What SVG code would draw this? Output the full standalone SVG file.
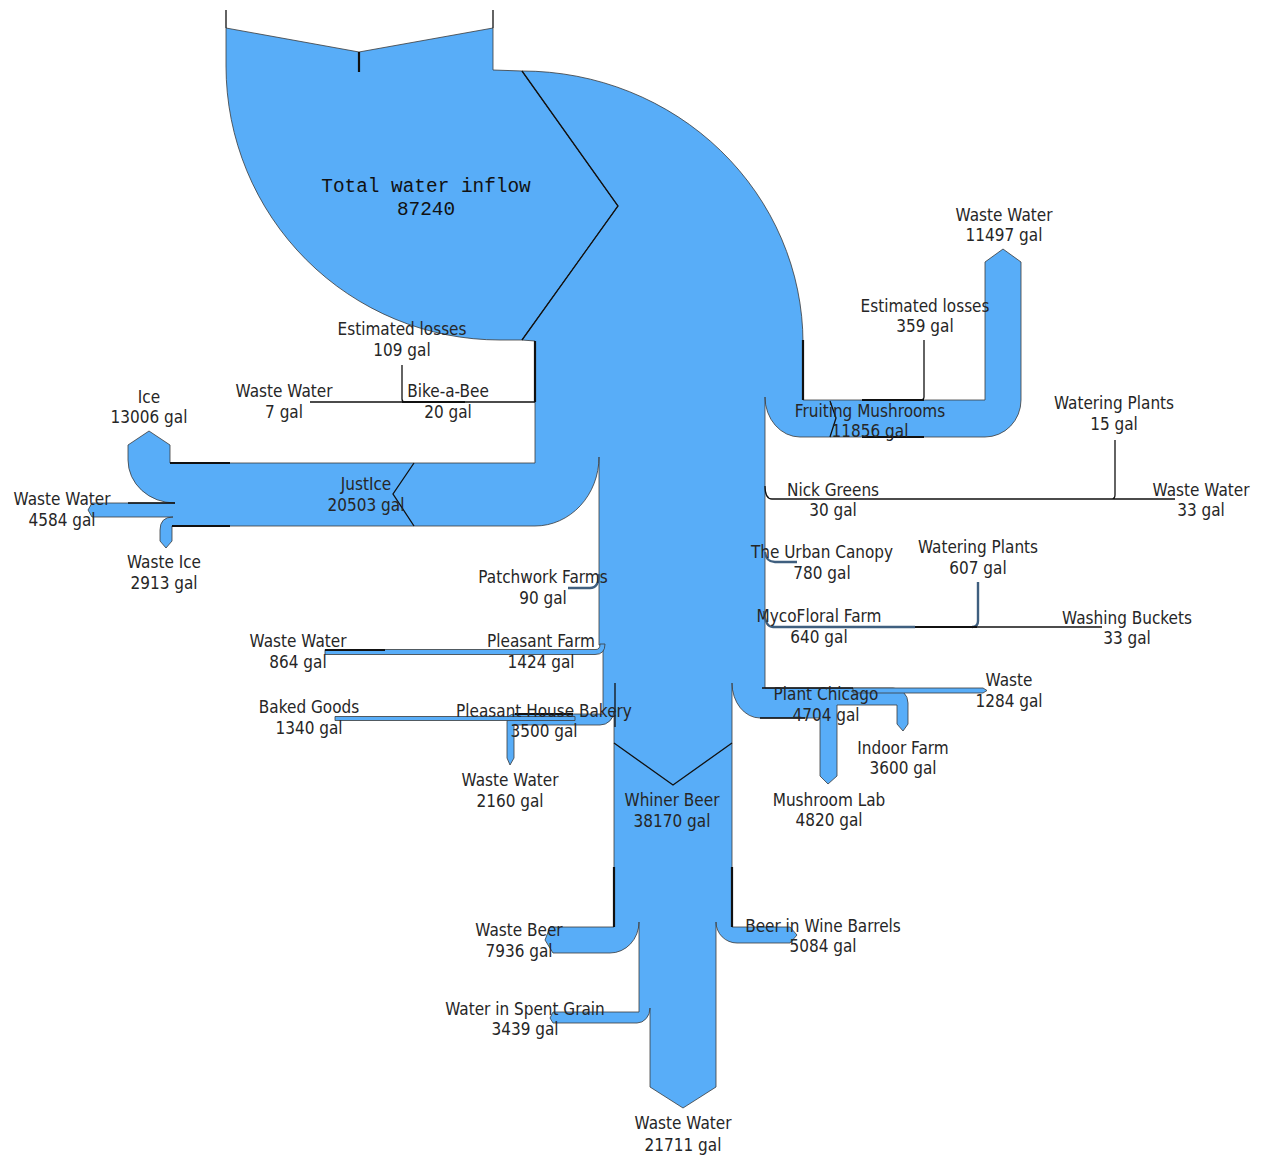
<svg xmlns="http://www.w3.org/2000/svg" width="1262" height="1156" viewBox="0 0 1262 1156">
<style>
.f{fill:#58adf8;stroke:#3a3a3a;stroke-width:0.8;stroke-linejoin:round}
.k{fill:none;stroke:#111;stroke-width:1.3}
.kb{fill:none;stroke:#111;stroke-width:2.2}
.s{fill:none;stroke:#3f5f7f;stroke-width:2.4}
.t{font-family:"DejaVu Sans","Liberation Sans",sans-serif;font-size:17px;fill:#262626;text-anchor:middle}
.m{font-family:"Liberation Mono","DejaVu Sans Mono",monospace;font-size:19.4px;fill:#111;text-anchor:middle}
</style>
<rect width="1262" height="1156" fill="#fff"/>
<g id="flows">
<path id="inflow" class="f" d="M226,28 L359,52 L493,28 L493,70 L522,71 L618,206 L522,340 L500,340 A274,274 0 0 1 226,66 Z"/>
<path id="trunk" class="f" d="M522,71 A281,272 0 0 1 803,343 L803,400 L985,400 L985,262 L1003,249 L1021,262 L1021,400 A36,37 0 0 1 985,437 L800,437 A35,40 0 0 1 765,397 L765,688 L893,688 A15,15 0 0 1 908,703 L908,724 L903,731 L897,724 L897,705 L837,705 L837,776 L828,784 L820,776 L820,718 L760,718 A28,35 0 0 1 732,683 L732,927 L790,927 L797,935 L790,943 L737,943 A21,21 0 0 1 716,922 L716,1087 L683,1108 L650,1087 L650,1008 A13,15 0 0 1 637,1023 L553,1023 L550,1018 L553,1012 L639,1012 L639,922 A29,31 0 0 1 610,953 L553,953 L545,940 L550,927 L614,927 L614,711 A14,14 0 0 1 600,725 L514,725 L514,758 L510,765 L507,758 L507,722 Q507,714 515,714 L603,714 L603,645 L599,645 L599,457 A64,69 0 0 1 535,526 L172,526 L172,541 L166,548 L160,541 L160,530 Q160,517 173,517 L92,517 L88,510 L92,503 L175,503 A47,43 0 0 1 128,460 L128,445 L149,431 L170,445 L170,463 L535,463 L535,341 L522,340 L618,206 Z"/>
<path id="pleasant-farm-flow" class="f" d="M325,649.5 L596,649.5 Q600,649.5 600,644 L605,644 Q605,654.5 595,654.5 L325,654.5 Z"/>
<path id="baked-goods-flow" class="f" d="M335,716.5 L575,716.5 L575,720.5 L335,720.5 Z"/>
<path id="waste-1284-flow" class="f" d="M853,688 L983,688 L987,690.5 L983,693 L853,693 Z"/>
</g>
<g id="connectors">
<path class="k" d="M226,10 V28 M493,10 V28"/>
<path class="kb" d="M359,52 V72"/>
<path class="k" d="M522,71 L618,206 L522,340"/>
<path class="k" d="M402,365 V399 Q402,402 405,402 M310,402 H535"/>
<path class="kb" d="M402,402 H465 M535,341 V402 M803,340 V400 M862,400 H924 M862,437 H924"/>
<path class="k" d="M924,340 V397 Q924,400 920,400"/>
<path class="k" stroke-width="1" d="M830,401 L836,418 L830,437"/>
<path class="k" d="M765,486 Q765,499 772,499 H1175 M1115,440 V495 Q1115,499 1111,499"/>
<path class="s" d="M765,552 Q766,562 775,562 H797"/>
<path class="s" d="M764,611 Q765,627 773,627 H915 M978,582 V621 Q978,627 972,627"/>
<path class="kb" stroke-width="2.8" d="M915,627 H977"/>
<path class="k" d="M977,627 H1102"/>
<path class="k" stroke-width="1.6" d="M762,688 H853 M760,718 H805"/>
<path class="s" d="M599,574 Q599,588 590,588 H568"/>
<path class="kb" stroke-width="2.6" d="M325,650 H385"/>
<path class="kb" d="M515,714 H573"/>
<path class="k" stroke-width="1.6" d="M615,683 V727"/>
<path class="k" stroke-width="1" d="M614,743 L673,785 L732,743"/>
<path class="kb" stroke-width="2" d="M614,867 V927 M732,867 V927"/>
<path class="k" stroke-width="1" d="M414,463 L393,494 L414,526"/>
<path class="kb" d="M170,463 H230 M172,526 H230"/>
<path class="k" stroke-width="1.6" d="M128,503 H175"/>
</g>
<g id="node-total"><text class="m" x="426" y="192">Total water inflow</text><text class="m" x="426" y="215">87240</text></g>
<g id="node-est109" transform="translate(402,335) scale(0.9,1)"><text class="t">Estimated losses</text><text class="t" y="21">109 gal</text></g>
<g id="node-ww7" transform="translate(284,397) scale(0.9,1)"><text class="t">Waste Water</text><text class="t" y="21">7 gal</text></g>
<g id="node-bike" transform="translate(448,397) scale(0.9,1)"><text class="t">Bike-a-Bee</text><text class="t" y="21">20 gal</text></g>
<g id="node-ice" transform="translate(149,403) scale(0.9,1)"><text class="t">Ice</text><text class="t" y="20">13006 gal</text></g>
<g id="node-justice" transform="translate(366,490) scale(0.9,1)"><text class="t">JustIce</text><text class="t" y="21">20503 gal</text></g>
<g id="node-ww4584" transform="translate(62,505) scale(0.9,1)"><text class="t">Waste Water</text><text class="t" y="21">4584 gal</text></g>
<g id="node-wasteice" transform="translate(164,568) scale(0.9,1)"><text class="t">Waste Ice</text><text class="t" y="21">2913 gal</text></g>
<g id="node-patchwork" transform="translate(543,583) scale(0.9,1)"><text class="t">Patchwork Farms</text><text class="t" y="21">90 gal</text></g>
<g id="node-ww864" transform="translate(298,647) scale(0.9,1)"><text class="t">Waste Water</text><text class="t" y="21">864 gal</text></g>
<g id="node-pleasantfarm" transform="translate(541,647) scale(0.9,1)"><text class="t">Pleasant Farm</text><text class="t" y="21">1424 gal</text></g>
<g id="node-baked" transform="translate(309,713) scale(0.9,1)"><text class="t">Baked Goods</text><text class="t" y="21">1340 gal</text></g>
<g id="node-bakery" transform="translate(544,717) scale(0.9,1)"><text class="t">Pleasant House Bakery</text><text class="t" y="20">3500 gal</text></g>
<g id="node-ww2160" transform="translate(510,786) scale(0.9,1)"><text class="t">Waste Water</text><text class="t" y="21">2160 gal</text></g>
<g id="node-whiner" transform="translate(672,806) scale(0.9,1)"><text class="t">Whiner Beer</text><text class="t" y="21">38170 gal</text></g>
<g id="node-wastebeer" transform="translate(519,936) scale(0.9,1)"><text class="t">Waste Beer</text><text class="t" y="21">7936 gal</text></g>
<g id="node-spentgrain" transform="translate(525,1015) scale(0.9,1)"><text class="t">Water in Spent Grain</text><text class="t" y="20">3439 gal</text></g>
<g id="node-ww21711" transform="translate(683,1129) scale(0.9,1)"><text class="t">Waste Water</text><text class="t" y="22">21711 gal</text></g>
<g id="node-winebarrels" transform="translate(823,932) scale(0.9,1)"><text class="t">Beer in Wine Barrels</text><text class="t" y="20">5084 gal</text></g>
<g id="node-ww11497" transform="translate(1004,221) scale(0.9,1)"><text class="t">Waste Water</text><text class="t" y="20">11497 gal</text></g>
<g id="node-est359" transform="translate(925,312) scale(0.9,1)"><text class="t">Estimated losses</text><text class="t" y="20">359 gal</text></g>
<g id="node-fruiting" transform="translate(870,417) scale(0.9,1)"><text class="t">Fruiting Mushrooms</text><text class="t" y="20">11856 gal</text></g>
<g id="node-watering15" transform="translate(1114,409) scale(0.9,1)"><text class="t">Watering Plants</text><text class="t" y="21">15 gal</text></g>
<g id="node-nick" transform="translate(833,496) scale(0.9,1)"><text class="t">Nick Greens</text><text class="t" y="20">30 gal</text></g>
<g id="node-ww33" transform="translate(1201,496) scale(0.9,1)"><text class="t">Waste Water</text><text class="t" y="20">33 gal</text></g>
<g id="node-urban" transform="translate(822,558) scale(0.9,1)"><text class="t">The Urban Canopy</text><text class="t" y="21">780 gal</text></g>
<g id="node-watering607" transform="translate(978,553) scale(0.9,1)"><text class="t">Watering Plants</text><text class="t" y="21">607 gal</text></g>
<g id="node-myco" transform="translate(819,622) scale(0.9,1)"><text class="t">MycoFloral Farm</text><text class="t" y="21">640 gal</text></g>
<g id="node-buckets" transform="translate(1127,624) scale(0.9,1)"><text class="t">Washing Buckets</text><text class="t" y="20">33 gal</text></g>
<g id="node-waste1284" transform="translate(1009,686) scale(0.9,1)"><text class="t">Waste</text><text class="t" y="21">1284 gal</text></g>
<g id="node-plantchicago" transform="translate(826,700) scale(0.9,1)"><text class="t">Plant Chicago</text><text class="t" y="21">4704 gal</text></g>
<g id="node-indoor" transform="translate(903,754) scale(0.9,1)"><text class="t">Indoor Farm</text><text class="t" y="20">3600 gal</text></g>
<g id="node-mushroomlab" transform="translate(829,806) scale(0.9,1)"><text class="t">Mushroom Lab</text><text class="t" y="20">4820 gal</text></g>
</svg>
